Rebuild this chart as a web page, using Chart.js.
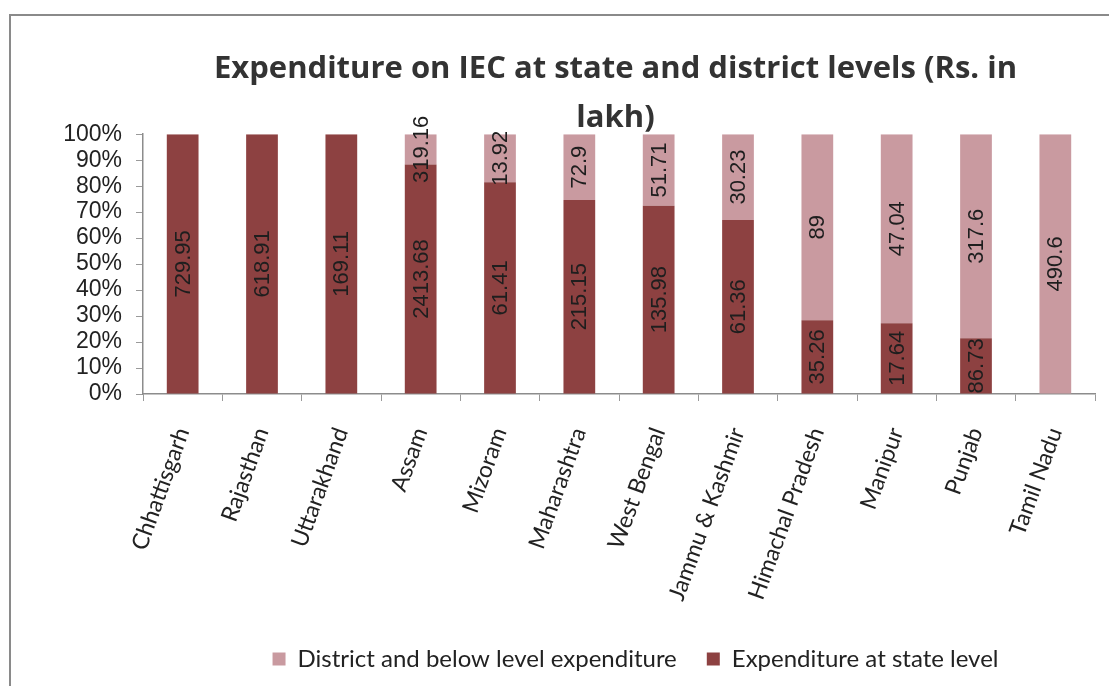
<!DOCTYPE html>
<html>
<head>
<meta charset="utf-8">
<script src="https://cdn.jsdelivr.net/npm/chart.js@4/dist/chart.umd.min.js"></script>
<style>
    body { margin: 0; background: #fff; overflow: hidden; }
    #wrap { position: relative; width: 1109px; height: 686px; }
    #frame { position: absolute; left: 9px; top: 14px; width: 1200px; height: 800px; border: 2px solid #8a8a8a; pointer-events: none; }
</style>
</head>
<body>
<div id="wrap">
    <div id="frame"></div>
    <canvas id="iecChart" width="1109" height="686"></canvas>
</div>
<script>
// values in Rs. lakh
const states = ['Chhattisgarh', 'Rajasthan', 'Uttarakhand', 'Assam', 'Mizoram', 'Maharashtra',
    'West Bengal', 'Jammu & Kashmir', 'Himachal Pradesh', 'Manipur', 'Punjab', 'Tamil Nadu'];
const stateLevel = [729.95, 618.91, 169.11, 2413.68, 61.41, 215.15, 135.98, 61.36, 35.26, 17.64, 86.73, 0];
const districtLevel = [0, 0, 0, 319.16, 13.92, 72.9, 51.71, 30.23, 89, 47.04, 317.6, 490.6];
const percentTicks = [0, 10, 20, 30, 40, 50, 60, 70, 80, 90, 100];

// 100% stacked: share of each part in the state total
const toShare = (part, i) => part / (stateLevel[i] + districtLevel[i]) * 100;

// draws the raw lakh values rotated inside each segment
const barValueLabels = {
    id: 'barValueLabels',
    afterDatasetsDraw(chart) {
        const ctx = chart.ctx;
        ctx.save();
        ctx.font = '22px "Liberation Sans", Arial, sans-serif';
        ctx.fillStyle = '#1e1e1e';
        ctx.textAlign = 'center';
        ctx.textBaseline = 'middle';
        chart.data.datasets.forEach((ds, i) => {
            chart.getDatasetMeta(i).data.forEach((bar, j) => {
                const raw = ds.rawValues[j];
                if (!raw) return;
                ctx.save();
                ctx.translate(bar.x, (bar.y + bar.base) / 2);
                ctx.rotate(-Math.PI / 2);
                ctx.fillText(String(raw), 0, 1);
                ctx.restore();
            });
        });
        ctx.restore();
    }
};

// title and legend sit a bit right of centre in the original
const shiftBlocks = {
    id: 'shiftBlocks',
    afterLayout(chart) {
        chart.legend.left += 78;
        chart.legend.right += 78;
        chart.titleBlock.left += 58;
        chart.titleBlock.right += 58;
    }
};

const ctx = document.getElementById('iecChart');
new Chart(ctx, {
    type: 'bar',
    data: {
        labels: states,
        datasets: [{
            label: 'Expenditure at state level',
            data: stateLevel.map(toShare),
            rawValues: stateLevel,
            backgroundColor: '#8d4141'
        }, {
            label: 'District and below level expenditure',
            data: districtLevel.map(toShare),
            rawValues: districtLevel,
            backgroundColor: '#c99aa0'
        }]
    },
    options: {
        responsive: false,
        animation: false,
        layout: {
            autoPadding: false,
            padding: { left: 20, right: 14, top: 0, bottom: 5 }
        },
        datasets: {
            bar: { barPercentage: 0.8, categoryPercentage: 0.5 }
        },
        scales: {
            x: {
                stacked: true,
                border: { color: '#8c8c8c', width: 1.5 },
                grid: { drawOnChartArea: false, tickLength: 7, color: '#9a9a9a', offset: true },
                ticks: {
                    minRotation: 70,
                    maxRotation: 70,
                    padding: 23,
                    color: '#222',
                    font: { family: 'Lato, "Open Sans", sans-serif', size: 23 }
                },
                afterFit(scale) { scale.height = 223; }
            },
            y: {
                stacked: true,
                min: 0,
                max: 100,
                border: { color: '#8c8c8c', width: 1.5 },
                grid: { drawOnChartArea: false, tickLength: 7, color: '#9a9a9a' },
                afterBuildTicks(scale) { scale.ticks = percentTicks.map(v => ({ value: v })); },
                ticks: {
                    autoSkip: false,
                    padding: 14,
                    color: '#222',
                    font: { family: '"Liberation Sans", Arial, sans-serif', size: 23, lineHeight: 1 },
                    callback: v => v + '%'
                },
                afterFit(scale) { scale.width = 123; }
            }
        },
        plugins: {
            title: {
                display: true,
                text: ['Expenditure on IEC at state and district levels (Rs. in', 'lakh)'],
                color: '#333',
                font: { family: '"Open Sans", Lato, sans-serif', size: 31, weight: 'bold', lineHeight: 1.6 },
                padding: { top: 44, bottom: -9 }
            },
            legend: {
                position: 'bottom',
                reverse: true,
                labels: {
                    boxWidth: 13,
                    boxHeight: 13,
                    padding: 30,
                    color: '#222',
                    font: { family: 'Lato, "Open Sans", sans-serif', size: 24 }
                }
            },
            tooltip: { enabled: false }
        }
    },
    plugins: [barValueLabels, shiftBlocks]
});
</script>
</body>
</html>
